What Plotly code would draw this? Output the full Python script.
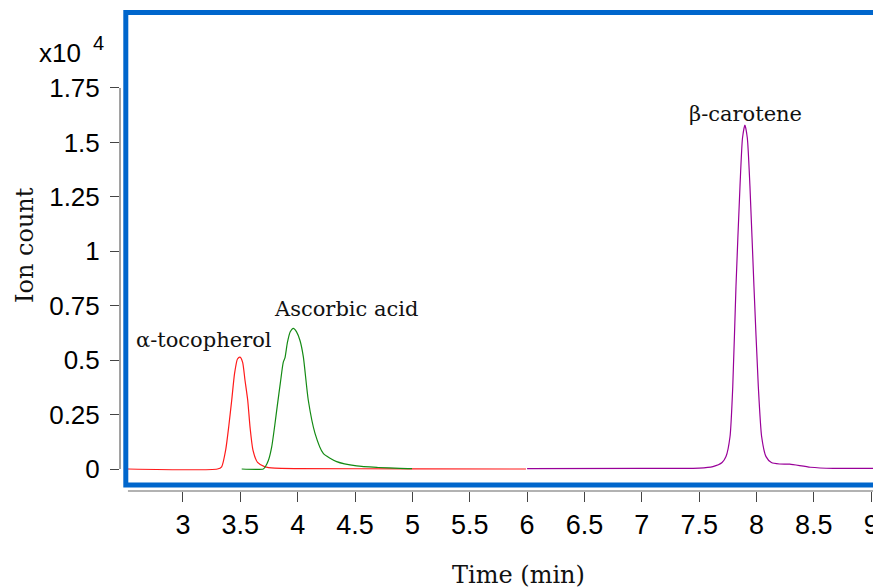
import plotly.graph_objects as go

# ---- data (retention time in min, intensity in units of 1e4 ion counts) ----
toco_time = [2.52, 3.30, 3.337, 3.372, 3.40, 3.425, 3.45, 3.475, 3.497, 3.52, 3.54, 3.564, 3.585, 3.61, 3.65, 3.715, 3.80, 4.00, 5.00, 5.99]
toco_int = [0.0, 0.0, 0.01, 0.087, 0.20, 0.317, 0.44, 0.505, 0.514, 0.49, 0.41, 0.317, 0.19, 0.087, 0.03, 0.01, 0.004, 0.002, 0.001, 0.0]

asc_time = [3.512, 3.70, 3.715, 3.745, 3.773, 3.80, 3.822, 3.85, 3.874, 3.889, 3.91, 3.935, 3.962, 3.99, 4.02, 4.049, 4.092, 4.151, 4.223, 4.34, 4.514, 4.70, 4.892, 4.997]
asc_int = [0.0, 0.0, 0.008, 0.04, 0.10, 0.20, 0.29, 0.40, 0.49, 0.51, 0.58, 0.63, 0.646, 0.63, 0.59, 0.516, 0.317, 0.164, 0.072, 0.034, 0.014, 0.007, 0.003, 0.002]

caro_time = [6.0, 7.0, 7.5, 7.62, 7.70, 7.734, 7.769, 7.793, 7.821, 7.856, 7.878, 7.899, 7.92, 7.943, 7.978, 8.016, 8.045, 8.083, 8.13, 8.20, 8.29, 8.47, 8.67, 9.02]
caro_int = [0.002, 0.003, 0.004, 0.011, 0.03, 0.057, 0.148, 0.378, 0.837, 1.297, 1.52, 1.58, 1.52, 1.297, 0.837, 0.378, 0.148, 0.057, 0.03, 0.023, 0.022, 0.008, 0.003, 0.003]

x_ticks = [3, 3.5, 4, 4.5, 5, 5.5, 6, 6.5, 7, 7.5, 8, 8.5, 9]
x_tick_labels = ["3", "3.5", "4", "4.5", "5", "5.5", "6", "6.5", "7", "7.5", "8", "8.5", "9"]
y_ticks = [0, 0.25, 0.5, 0.75, 1, 1.25, 1.5, 1.75]
y_tick_labels = ["0", "0.25", "0.5", "0.75", "1", "1.25", "1.5", "1.75"]

peak_labels = ["α-tocopherol", "Ascorbic acid", "β-carotene"]

W, H = 873, 588
L, R, T, B = 120, 0, 0, 97
PW, PH = W - L - R, H - T - B


def px_x(px):
    return (px - L) / PW


def px_y(py):
    return (H - B - py) / PH


SANS = "Liberation Sans, Arial, sans-serif"
SERIF = "DejaVu Serif, serif"

fig = go.Figure()
fig.add_trace(go.Scatter(x=toco_time, y=toco_int, mode="lines", line=dict(color="#ff1a1a", width=1.2, shape="spline", smoothing=0.6), showlegend=False))
fig.add_trace(go.Scatter(x=asc_time, y=asc_int, mode="lines", line=dict(color="#138a13", width=1.2, shape="spline", smoothing=0.6), showlegend=False))
fig.add_trace(go.Scatter(x=caro_time, y=caro_int, mode="lines", line=dict(color="#990099", width=1.2, shape="spline", smoothing=0.6), showlegend=False))

fig.update_xaxes(
    range=[2.4508, 9.0157], tickvals=x_ticks, ticktext=x_tick_labels,
    ticks="outside", ticklen=10, tickcolor="#444", tickwidth=1,
    showline=False, showgrid=False, zeroline=False, automargin=False,
    ticklabeloverflow="allow",
    tickfont=dict(family=SANS, size=27, color="#000"),
)
fig.update_yaxes(
    range=[-0.101, 2.154], tickvals=y_ticks, ticktext=y_tick_labels,
    ticks="outside", ticklen=9, tickcolor="#444", tickwidth=1,
    showline=False, showgrid=False, zeroline=False, automargin=False,
    ticklabelstandoff=5,
    tickfont=dict(family=SANS, size=26, color="#000"),
)

shapes = [
    # y axis line (0 .. 1.75)
    dict(type="line", xref="paper", yref="y", x0=0, x1=0, y0=0, y1=1.75, line=dict(color="#444", width=1)),
    # x axis line
    dict(type="line", xref="x", yref="paper", x0=2.52, x1=9.02, y0=0, y1=0, line=dict(color="#666", width=1.2)),
    # blue frame
    dict(type="rect", xref="paper", yref="paper", x0=px_x(125.8), x1=px_x(890), y0=px_y(485), y1=px_y(12.5),
         line=dict(color="#0066cc", width=5), layer="above"),
]

annotations = [
    dict(text="x10", x=px_x(60), y=px_y(53), xref="paper", yref="paper", showarrow=False,
         font=dict(family=SANS, size=26, color="#000"), xanchor="center", yanchor="middle"),
    dict(text="4", x=px_x(98), y=px_y(43), xref="paper", yref="paper", showarrow=False,
         font=dict(family=SANS, size=20, color="#000"), xanchor="center", yanchor="middle"),
    dict(text=peak_labels[0], x=px_x(204), y=px_y(340), xref="paper", yref="paper", showarrow=False,
         font=dict(family=SERIF, size=21, color="#111"), xanchor="center", yanchor="middle"),
    dict(text=peak_labels[1], x=px_x(346), y=px_y(309), xref="paper", yref="paper", showarrow=False,
         font=dict(family=SERIF, size=21, color="#111"), xanchor="center", yanchor="middle"),
    dict(text=peak_labels[2], x=px_x(745), y=px_y(114), xref="paper", yref="paper", showarrow=False,
         font=dict(family=SERIF, size=21, color="#111"), xanchor="center", yanchor="middle"),
    dict(text="Time (min)", x=px_x(518), y=px_y(575), xref="paper", yref="paper", showarrow=False,
         font=dict(family=SERIF, size=24, color="#111"), xanchor="center", yanchor="middle"),
    dict(text="Ion count", x=px_x(25), y=px_y(245), xref="paper", yref="paper", showarrow=False, textangle=-90,
         font=dict(family=SERIF, size=24, color="#111"), xanchor="center", yanchor="middle"),
]

fig.update_layout(
    width=W, height=H, margin=dict(l=L, r=R, t=T, b=B, pad=0, autoexpand=False),
    paper_bgcolor="white", plot_bgcolor="white",
    shapes=shapes, annotations=annotations, showlegend=False,
)

fig.write_html(
    "out.html",
    config={"displayModeBar": False},
    post_script="document.body.style.margin='0';document.body.style.overflow='hidden';",
)
